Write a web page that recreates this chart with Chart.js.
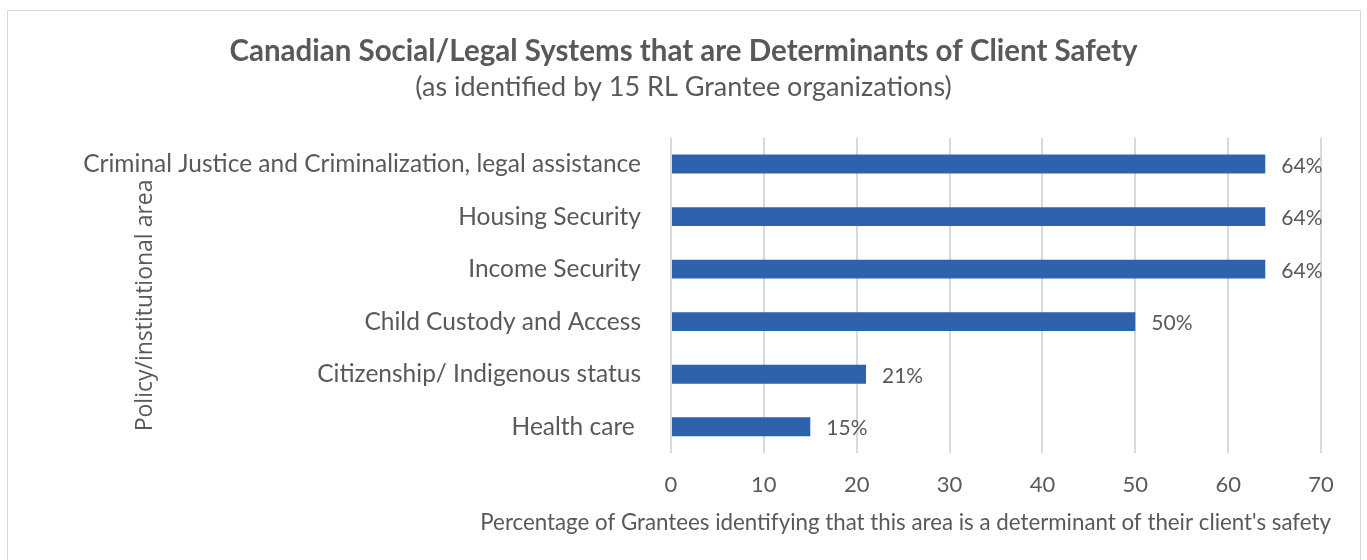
<!DOCTYPE html>
<html>
<head>
<meta charset="utf-8">
<script src="https://cdn.jsdelivr.net/npm/chart.js@4"></script>
<style>
    html, body { margin: 0; padding: 0; background: #fff; }
    #wrap { position: relative; width: 1367px; height: 560px; overflow: hidden; }
    #frame { position: absolute; left: 7px; top: 10px; width: 1352px; height: 600px; border: 1px solid #d9d9d9; }
    canvas { position: absolute; left: 0; top: 0; }
</style>
</head>
<body>
<div id="wrap">
    <div id="frame"></div>
    <canvas id="grafico" width="1367" height="560"></canvas>
</div>
<script>
const categorias = [
    "Criminal Justice and Criminalization, legal assistance",
    "Housing Security",
    "Income Security",
    "Child Custody and Access",
    "Citizenship/ Indigenous status",
    "Health care "
];
const percentuais = [64, 64, 64, 50, 21, 15];
const rotulos = ["64%", "64%", "64%", "50%", "21%", "15%"];

const cinza = "#595959";
const fonte = "Lato, 'Open Sans', sans-serif";

// rotulos de dados ao lado das barras
const rotulosPlugin = {
    id: "rotulos",
    afterDatasetsDraw(chart) {
        const ctx = chart.ctx;
        const meta = chart.getDatasetMeta(0);
        ctx.save();
        ctx.font = "21px " + fonte;
        ctx.fillStyle = cinza;
        ctx.textAlign = "left";
        ctx.textBaseline = "middle";
        meta.data.forEach((bar, i) => {
            ctx.fillText(rotulos[i], bar.x + 16, bar.y + 2);
        });
        ctx.restore();
    }
};

// titulos dos eixos: o do y fica sobreposto aos rotulos como no original
const titulosPlugin = {
    id: "titulos",
    afterDraw(chart) {
        const ctx = chart.ctx;
        const area = chart.chartArea;
        ctx.save();
        ctx.fillStyle = cinza;
        ctx.textBaseline = "middle";

        ctx.font = "22.3px " + fonte;
        ctx.textAlign = "right";
        ctx.fillText("Percentage of Grantees identifying that this area is a determinant of their client's safety", area.right + 10, chart.scales.x.bottom - 37);

        ctx.translate(145, (area.top + area.bottom) / 2 + 10);
        ctx.rotate(-Math.PI / 2);
        ctx.font = "23px 'Open Sans', sans-serif";
        ctx.textAlign = "center";
        ctx.fillText("Policy/institutional area", 0, 0);
        ctx.restore();
    }
};

new Chart(document.getElementById("grafico"), {
    type: "bar",
    data: {
        labels: categorias,
        datasets: [{
            data: percentuais,
            backgroundColor: "#2e62ad",
            barPercentage: 0.72,
            categoryPercentage: 0.5
        }]
    },
    options: {
        indexAxis: "y",
        responsive: false,
        animation: false,
        layout: { padding: { left: 46, right: 46, top: 0, bottom: 0 } },
        plugins: {
            legend: { display: false },
            tooltip: { enabled: false },
            title: {
                display: true,
                text: "Canadian Social/Legal Systems that are Determinants of Client Safety",
                color: cinza,
                font: { family: fonte, size: 29.5, weight: "bold" },
                padding: { top: 34, bottom: 2 }
            },
            subtitle: {
                display: true,
                text: "(as identified by 15 RL Grantee organizations)",
                color: cinza,
                font: { family: fonte, size: 27 },
                padding: { top: 0, bottom: 34 }
            }
        },
        scales: {
            x: {
                min: 0,
                max: 70,
                ticks: {
                    stepSize: 10,
                    color: cinza,
                    padding: 19,
                    font: { family: fonte, size: 22 }
                },
                grid: { color: "#d9d9d9", lineWidth: 2, drawTicks: false },
                border: { display: false },
                afterFit(scale) { scale.height = 107; }
            },
            y: {
                ticks: {
                    color: cinza,
                    padding: 22,
                    font: { family: fonte, size: 24.5 }
                },
                grid: { display: false },
                border: { display: false },
                afterFit(scale) { scale.width = 625; }
            }
        }
    },
    plugins: [rotulosPlugin, titulosPlugin]
});
</script>
</body>
</html>
